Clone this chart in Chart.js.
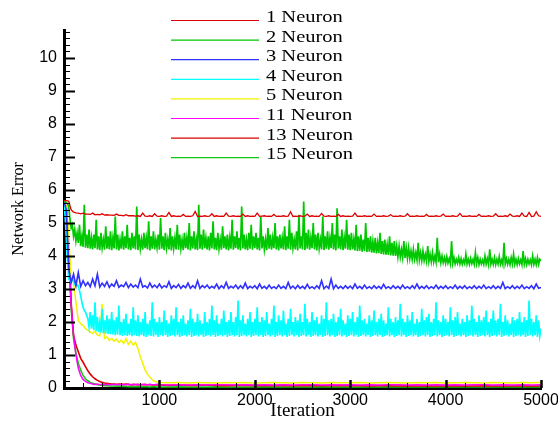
<!DOCTYPE html>
<html>
<head>
<meta charset="utf-8">
<script src="https://cdn.jsdelivr.net/npm/chart.js@4.4.0/dist/chart.umd.min.js"></script>
<style>
  html, body { margin: 0; padding: 0; background: #fff; }
  #wrap { width: 558px; height: 421px; position: relative; }
</style>
</head>
<body>
<div id="wrap"><canvas id="errChart"></canvas></div>
<script>
// iteration grids the curves were read at
function steps(from, to, by) {
  const out = [];
  for (let v = from; v <= to; v += by) out.push(v);
  return out;
}
const iter12 = steps(0, 5000, 12.5);
const iter25 = steps(0, 5000, 25);
const coarseIter = steps(0, 1000, 25).concat(steps(1100, 5000, 100));

const seriesNames = ["1 Neuron", "2 Neuron", "3 Neuron", "4 Neuron", "5 Neuron", "11 Neuron", "13 Neuron", "15 Neuron"];

// 1 and 3 neurons: one value every 25 iterations
const neuron1 = [
  5.68, 5.68, 5.66, 5.4, 5.33, 5.31, 5.3, 5.28, 5.3, 5.27,
  5.27, 5.26, 5.3, 5.25, 5.26, 5.25, 5.28, 5.24, 5.25, 5.24,
  5.24, 5.23, 5.27, 5.23, 5.23, 5.22, 5.25, 5.22, 5.22, 5.22,
  5.21, 5.22, 5.2, 5.3, 5.21, 5.2, 5.22, 5.2, 5.28, 5.21,
  5.2, 5.22, 5.2, 5.21, 5.32, 5.2, 5.22, 5.2, 5.21, 5.2,
  5.26, 5.2, 5.21, 5.2, 5.22, 5.35, 5.2, 5.21, 5.2, 5.22,
  5.2, 5.21, 5.28, 5.2, 5.22, 5.2, 5.21, 5.2, 5.3, 5.21,
  5.2, 5.22, 5.2, 5.21, 5.2, 5.27, 5.2, 5.22, 5.2, 5.21,
  5.2, 5.3, 5.2, 5.21, 5.22, 5.2, 5.21, 5.2, 5.26, 5.2,
  5.21, 5.2, 5.22, 5.2, 5.21, 5.34, 5.2, 5.21, 5.2, 5.22,
  5.2, 5.21, 5.27, 5.2, 5.22, 5.2, 5.21, 5.2, 5.29, 5.21,
  5.2, 5.22, 5.2, 5.21, 5.2, 5.26, 5.2, 5.22, 5.2, 5.21,
  5.2, 5.21, 5.3, 5.2, 5.21, 5.2, 5.22, 5.2, 5.21, 5.2,
  5.27, 5.2, 5.21, 5.2, 5.22, 5.2, 5.21, 5.25, 5.2, 5.21,
  5.2, 5.22, 5.2, 5.21, 5.28, 5.2, 5.21, 5.2, 5.22, 5.2,
  5.21, 5.2, 5.26, 5.2, 5.21, 5.2, 5.22, 5.2, 5.21, 5.27,
  5.2, 5.21, 5.2, 5.22, 5.2, 5.21, 5.29, 5.2, 5.21, 5.2,
  5.22, 5.2, 5.21, 5.2, 5.26, 5.2, 5.21, 5.2, 5.22, 5.2,
  5.21, 5.28, 5.2, 5.21, 5.2, 5.22, 5.2, 5.27, 5.21, 5.2,
  5.22, 5.2, 5.3, 5.21, 5.2, 5.32, 5.2, 5.21, 5.34, 5.22,
  5.2
];
const neuron3 = [
  5.65, 5.4, 3.6, 3.2, 3.45, 3.1, 3.5, 3.08, 3.25, 3.1,
  3.2, 3.07, 3.3, 3.1, 3.45, 3.06, 3.18, 3.08, 3.22, 3.05,
  3.15, 3.08, 3.25, 3.05, 3.12, 3.07, 3.2, 3.04, 3.15, 3.06,
  3.12, 3.04, 3.3, 3.06, 3.1, 3.03, 3.18, 3.05, 3.12, 3.04,
  3.15, 3.03, 3.1, 3.05, 3.22, 3.02, 3.1, 3.04, 3.14, 3.02,
  3.1, 3.04, 3.18, 3.02, 3.1, 3.03, 3.25, 3.02, 3.1, 3.04,
  3.12, 3.02, 3.08, 3.03, 3.15, 3.01, 3.1, 3.03, 3.2, 3.02,
  3.08, 3.03, 3.12, 3.01, 3.1, 3.02, 3.18, 3.01, 3.08, 3.03,
  3.1, 3.01, 3.15, 3.02, 3.08, 3.01, 3.12, 3.02, 3.07, 3.01,
  3.12, 3.02, 3.08, 3.01, 3.2, 3.02, 3.09, 3.01, 3.11, 3.02,
  3.08, 3.01, 3.14, 3.02, 3.07, 3.01, 3.1, 3.02, 3.25, 3.01,
  3.09, 3.02, 3.3, 3.01, 3.12, 3.02, 3.08, 3.01, 3.1, 3.02,
  3.09, 3.01, 3.15, 3.02, 3.08, 3.01, 3.12, 3.02, 3.07, 3.01,
  3.1, 3.02, 3.08, 3.01, 3.14, 3.02, 3.07, 3.01, 3.1, 3.02,
  3.08, 3.01, 3.12, 3.02, 3.07, 3.01, 3.1, 3.02, 3.15, 3.01,
  3.08, 3.02, 3.1, 3.01, 3.07, 3.02, 3.12, 3.01, 3.08, 3.02,
  3.1, 3.01, 3.07, 3.02, 3.12, 3.01, 3.08, 3.02, 3.1, 3.01,
  3.07, 3.02, 3.1, 3.01, 3.08, 3.02, 3.12, 3.01, 3.07, 3.02,
  3.1, 3.01, 3.08, 3.02, 3.2, 3.01, 3.07, 3.02, 3.1, 3.01,
  3.08, 3.02, 3.12, 3.01, 3.07, 3.02, 3.1, 3.01, 3.15, 3.02,
  3.05
];

// 2 and 4 neurons: wide noisy bands, one value every 12.5 iterations
const neuron2 = [
  5.65, 5.65, 5.62, 5.58, 5.5, 5.1, 4.85, 4.95, 4.6, 4.8, 4.45, 4.7, 4.4, 4.95, 4.3, 4.6, 4.28, 5.55, 4.25, 4.65,
  4.24, 4.8, 4.22, 4.55, 4.2, 4.65, 4.24, 5.1, 4.2, 4.6, 4.18, 4.7, 4.25, 4.5, 4.19, 4.9, 4.22, 4.6, 4.2, 4.75,
  4.18, 4.55, 4.23, 5.2, 4.2, 4.65, 4.17, 4.5, 4.22, 4.75, 4.19, 4.6, 4.24, 4.95, 4.2, 4.55, 4.18, 4.7, 4.23, 4.6,
  4.2, 5.5, 4.18, 4.65, 4.22, 4.5, 4.19, 4.7, 4.24, 4.55, 4.2, 5.05, 4.17, 4.6, 4.22, 4.75, 4.2, 4.5, 4.25, 4.65,
  4.19, 5.15, 4.22, 4.6, 4.18, 4.7, 4.24, 4.5, 4.2, 4.85, 4.17, 4.6, 4.23, 4.55, 4.2, 4.95, 4.19, 4.65, 4.22, 4.5,
  4.18, 4.7, 4.24, 4.55, 4.2, 5.0, 4.17, 4.6, 4.23, 4.75, 4.2, 4.5, 4.18, 5.55, 4.22, 4.65, 4.19, 4.8, 4.24, 4.55,
  4.2, 4.6, 4.17, 4.7, 4.23, 5.05, 4.2, 4.55, 4.18, 4.7, 4.22, 4.5, 4.19, 4.9, 4.24, 4.6, 4.2, 4.65, 4.17, 4.55,
  4.22, 5.1, 4.19, 4.6, 4.24, 4.75, 4.2, 4.55, 4.17, 5.5, 4.23, 4.65, 4.2, 4.5, 4.18, 4.7, 4.22, 4.95, 4.19, 4.6,
  4.24, 4.7, 4.2, 4.55, 4.17, 5.2, 4.23, 4.6, 4.2, 4.5, 4.18, 4.85, 4.22, 4.65, 4.19, 4.55, 4.24, 5.0, 4.2, 4.6,
  4.17, 4.65, 4.23, 4.55, 4.2, 4.9, 4.18, 4.6, 4.22, 5.1, 4.19, 4.7, 4.24, 4.5, 4.2, 4.75, 4.17, 5.25, 4.23, 4.6,
  4.2, 5.65, 4.18, 4.7, 4.22, 4.8, 4.19, 4.55, 4.24, 5.0, 4.2, 4.65, 4.17, 4.7, 4.23, 4.5, 4.2, 5.2, 4.18, 4.6,
  4.22, 4.75, 4.19, 4.55, 4.24, 5.0, 4.2, 4.65, 4.17, 5.45, 4.23, 4.6, 4.2, 4.8, 4.18, 4.55, 4.22, 5.1, 4.19, 4.65,
  4.18, 4.7, 4.2, 4.5, 4.17, 4.95, 4.15, 4.6, 4.16, 4.65, 4.13, 4.5, 4.15, 5.0, 4.12, 4.55, 4.13, 4.6, 4.1, 4.45,
  4.1, 4.55, 4.08, 4.4, 4.09, 4.7, 4.06, 4.45, 4.05, 4.5, 4.04, 4.35, 4.03, 4.6, 4.02, 4.4, 4.01, 4.45, 4.0, 4.3,
  3.98, 4.3, 3.97, 4.2, 3.95, 4.45, 3.94, 4.25, 3.93, 4.25, 3.92, 4.15, 3.9, 4.2, 3.9, 4.1, 3.88, 4.4, 3.88, 4.1,
  3.86, 4.15, 3.86, 4.05, 3.85, 4.3, 3.84, 4.05, 3.83, 4.1, 3.82, 4.0, 3.82, 4.55, 3.81, 4.05, 3.8, 4.0, 3.8, 3.95,
  3.78, 3.98, 3.79, 3.92, 3.77, 4.45, 3.78, 3.95, 3.76, 3.9, 3.78, 3.95, 3.76, 3.92, 3.75, 3.88, 3.77, 4.05, 3.76, 3.9,
  3.75, 3.93, 3.77, 3.9, 3.75, 4.1, 3.77, 3.95, 3.74, 3.9, 3.76, 3.88, 3.75, 4.0, 3.76, 3.92, 3.74, 4.2, 3.76, 3.9,
  3.75, 3.95, 3.74, 3.9, 3.76, 3.98, 3.75, 3.88, 3.74, 4.4, 3.76, 3.92, 3.75, 3.9, 3.74, 3.95, 3.76, 4.05, 3.75, 3.9,
  3.74, 3.92, 3.76, 3.88, 3.74, 4.15, 3.75, 3.92, 3.74, 3.9, 3.76, 3.88, 3.74, 4.0, 3.75, 3.9, 3.74, 3.95, 3.75, 3.9,
  3.85
];
const neuron4 = [
  5.6, 5.2, 4.5, 3.8, 3.3, 3.25, 3.2, 3.3, 3.25, 3.15, 3.2, 3.1, 3.1, 2.95, 2.8, 2.6, 2.45, 2.35, 2.3, 2.2,
  2.1, 1.85, 2.3, 1.8, 2.2, 1.75, 2.6, 1.72, 2.15, 1.7, 2.0, 1.68, 2.4, 1.66, 2.05, 1.65, 2.2, 1.64, 2.1, 1.63,
  2.3, 1.62, 2.05, 1.6, 2.15, 1.62, 2.5, 1.6, 2.0, 1.58, 2.1, 1.6, 2.25, 1.58, 1.95, 1.6, 2.1, 1.57, 2.45, 1.6,
  2.05, 1.58, 2.2, 1.56, 2.0, 1.6, 2.1, 1.57, 2.3, 1.55, 1.95, 1.6, 2.05, 1.58, 2.6, 1.56, 2.1, 1.6, 2.0, 1.55,
  2.15, 1.6, 2.0, 1.57, 2.35, 1.6, 2.05, 1.55, 1.95, 1.58, 2.2, 1.6, 2.1, 1.56, 2.45, 1.6, 2.0, 1.55, 2.1, 1.58,
  2.2, 1.6, 1.95, 1.56, 2.05, 1.6, 2.4, 1.55, 2.1, 1.58, 2.0, 1.6, 2.25, 1.56, 2.05, 1.6, 1.95, 1.55, 2.3, 1.58,
  2.0, 1.6, 2.1, 1.56, 2.5, 1.6, 2.05, 1.55, 2.2, 1.58, 1.95, 1.6, 2.1, 1.56, 2.35, 1.6, 2.0, 1.55, 2.05, 1.58,
  2.3, 1.6, 2.0, 1.56, 2.15, 1.6, 2.65, 1.55, 2.05, 1.58, 2.2, 1.6, 1.95, 1.56, 2.1, 1.6, 2.3, 1.55, 2.0, 1.58,
  2.1, 1.6, 2.45, 1.56, 2.0, 1.6, 2.15, 1.55, 2.05, 1.58, 2.3, 1.6, 1.95, 1.56, 2.1, 1.6, 2.5, 1.55, 2.0, 1.58,
  2.2, 1.6, 2.05, 1.56, 2.35, 1.6, 1.95, 1.55, 2.1, 1.58, 2.4, 1.6, 2.0, 1.56, 2.15, 1.6, 2.05, 1.55, 2.25, 1.58,
  2.0, 1.6, 2.55, 1.56, 2.1, 1.6, 2.0, 1.55, 2.3, 1.58, 2.05, 1.6, 2.15, 1.56, 1.95, 1.6, 2.2, 1.55, 2.1, 1.58,
  2.6, 1.6, 2.05, 1.56, 2.1, 1.6, 2.25, 1.55, 2.0, 1.58, 2.15, 1.6, 2.4, 1.56, 2.05, 1.6, 1.95, 1.55, 2.2, 1.58,
  2.1, 1.6, 2.3, 1.56, 2.0, 1.6, 2.15, 1.55, 2.5, 1.58, 2.05, 1.6, 2.1, 1.56, 1.95, 1.6, 2.2, 1.55, 2.05, 1.58,
  2.35, 1.6, 2.0, 1.56, 2.1, 1.6, 2.25, 1.55, 2.05, 1.58, 1.95, 1.6, 2.45, 1.56, 2.1, 1.6, 2.0, 1.55, 2.15, 1.58,
  2.05, 1.6, 2.55, 1.56, 2.1, 1.6, 2.0, 1.55, 2.2, 1.58, 2.05, 1.6, 2.3, 1.56, 1.95, 1.6, 2.1, 1.55, 2.0, 1.58,
  2.4, 1.6, 2.05, 1.56, 2.15, 1.6, 2.25, 1.55, 2.0, 1.58, 2.1, 1.6, 2.6, 1.56, 2.05, 1.6, 2.0, 1.55, 2.2, 1.58,
  2.1, 1.6, 2.0, 1.56, 2.45, 1.6, 2.05, 1.55, 2.15, 1.58, 2.3, 1.6, 1.95, 1.56, 2.1, 1.6, 2.0, 1.55, 2.2, 1.58,
  2.05, 1.6, 2.5, 1.56, 2.1, 1.6, 2.0, 1.55, 2.2, 1.58, 2.05, 1.6, 2.15, 1.56, 2.35, 1.6, 2.0, 1.55, 2.1, 1.58,
  2.35, 1.6, 2.05, 1.56, 2.1, 1.6, 2.55, 1.55, 2.0, 1.58, 2.2, 1.6, 2.05, 1.56, 1.95, 1.6, 2.15, 1.55, 2.05, 1.58,
  2.1, 1.6, 2.3, 1.56, 2.0, 1.6, 2.15, 1.55, 2.05, 1.58, 2.65, 1.6, 2.1, 1.56, 2.0, 1.6, 2.2, 1.55, 2.05, 1.58,
  1.8
];

// fast-converging curves, every 25 iterations to 1000, then every 100
const neuron5 = [
  5.6, 5.5, 4.6, 3.3, 3.2, 2.6, 2.05, 1.95, 1.9, 1.8,
  1.75, 1.7, 1.65, 1.72, 1.6, 1.58, 2.55, 1.5, 1.55, 1.45,
  1.5, 1.42, 1.48, 1.38, 1.45, 1.35, 1.5, 1.32, 1.42, 1.3,
  1.38, 1.2, 0.95, 0.75, 0.55, 0.42, 0.33, 0.25, 0.2, 0.18,
  0.17,
  0.16, 0.17, 0.15, 0.17, 0.16, 0.15, 0.17, 0.16, 0.17, 0.15,
  0.16, 0.17, 0.16, 0.15, 0.17, 0.16, 0.15, 0.17, 0.16, 0.16,
  0.17, 0.15, 0.16, 0.17, 0.16, 0.15, 0.17, 0.16, 0.17, 0.15,
  0.16, 0.17, 0.16, 0.15, 0.17, 0.16, 0.15, 0.17, 0.16, 0.17
];
const neuron11 = [
  5.55, 5.3, 4.0, 2.5, 1.6, 1.0, 0.6, 0.38, 0.26, 0.2,
  0.16, 0.14, 0.12, 0.11, 0.12, 0.1, 0.11, 0.1, 0.11, 0.1,
  0.1, 0.11, 0.1, 0.1, 0.11, 0.1, 0.1, 0.11, 0.1, 0.1,
  0.11, 0.1, 0.1, 0.11, 0.1, 0.1, 0.11, 0.1, 0.1, 0.11,
  0.1,
  0.09, 0.1, 0.09, 0.1, 0.09, 0.1, 0.1, 0.09, 0.1, 0.09,
  0.1, 0.09, 0.1, 0.09, 0.1, 0.1, 0.09, 0.1, 0.09, 0.1,
  0.09, 0.1, 0.09, 0.1, 0.1, 0.09, 0.1, 0.09, 0.1, 0.09,
  0.1, 0.09, 0.1, 0.1, 0.09, 0.1, 0.09, 0.1, 0.09, 0.1
];
const neuron13 = [
  5.6, 5.5, 4.3, 2.6, 1.6, 1.3, 1.1, 0.9, 0.78, 0.65,
  0.52, 0.42, 0.34, 0.28, 0.23, 0.2, 0.17, 0.15, 0.14, 0.13,
  0.12, 0.12, 0.11, 0.12, 0.11, 0.11, 0.12, 0.11, 0.1, 0.11,
  0.1, 0.11, 0.1, 0.1, 0.11, 0.1, 0.1, 0.09, 0.1, 0.09,
  0.09,
  0.08, 0.09, 0.08, 0.08, 0.09, 0.08, 0.07, 0.08, 0.08, 0.07,
  0.08, 0.07, 0.08, 0.07, 0.07, 0.08, 0.07, 0.07, 0.08, 0.07,
  0.07, 0.06, 0.07, 0.07, 0.06, 0.07, 0.06, 0.07, 0.06, 0.06,
  0.07, 0.06, 0.06, 0.07, 0.06, 0.06, 0.06, 0.07, 0.06, 0.06
];
const neuron15 = [
  5.6, 5.45, 4.1, 2.4, 1.5, 1.05, 0.75, 0.54, 0.38, 0.28,
  0.22, 0.17, 0.14, 0.12, 0.1, 0.09, 0.08, 0.07, 0.07, 0.06,
  0.06, 0.06, 0.05, 0.06, 0.05, 0.05, 0.05, 0.04, 0.05, 0.04,
  0.04, 0.05, 0.04, 0.04, 0.04, 0.04, 0.03, 0.04, 0.04, 0.03,
  0.03,
  0.03, 0.04, 0.03, 0.03, 0.03, 0.04, 0.03, 0.03, 0.03, 0.03,
  0.04, 0.03, 0.03, 0.03, 0.03, 0.03, 0.04, 0.03, 0.03, 0.03,
  0.03, 0.03, 0.03, 0.04, 0.03, 0.03, 0.03, 0.03, 0.03, 0.03,
  0.03, 0.04, 0.03, 0.03, 0.03, 0.03, 0.03, 0.03, 0.04, 0.03
];

const seriesColors = ["#dd0000", "#00c800", "#3030ff", "#00ffff", "#f2f200", "#ff00ff", "#dd0000", "#10c810"];
const seriesWidths = [1.3, 1.7, 1.6, 1.7, 1.5, 1.5, 1.6, 1.6];

const pts = (xs, ys) => ys.map((y, i) => ({ x: xs[i], y: y }));
const seriesData = [
  pts(iter25, neuron1),
  pts(iter12, neuron2),
  pts(iter25, neuron3),
  pts(iter12, neuron4),
  pts(coarseIter, neuron5),
  pts(coarseIter, neuron11),
  pts(coarseIter, neuron13),
  pts(coarseIter, neuron15)
];

// inward tick marks like the original plot
const innerTicks = {
  id: "innerTicks",
  afterDraw(chart) {
    const { ctx, chartArea: a, scales: { x, y } } = chart;
    ctx.save();
    ctx.strokeStyle = "#000";
    for (let k = 0; k <= 54; k++) {
      const v = k / 5;
      const major = k % 5 === 0;
      const py = Math.round(y.getPixelForValue(v)) + 0.5;
      ctx.lineWidth = major ? 2 : 1;
      ctx.beginPath();
      ctx.moveTo(a.left, py);
      ctx.lineTo(a.left + (major ? 11 : 6), py);
      ctx.stroke();
    }
    for (let v = 200; v <= 5000; v += 200) {
      const major = v % 1000 === 0;
      const px = Math.round(x.getPixelForValue(v)) + 0.5;
      ctx.lineWidth = major ? 2.5 : 1;
      ctx.beginPath();
      ctx.moveTo(px, a.bottom);
      ctx.lineTo(px, a.bottom - (major ? 8 : 5));
      ctx.stroke();
    }
    ctx.restore();
  }
};

// legend block sitting inside the plot
const lineLegend = {
  id: "lineLegend",
  afterDraw(chart) {
    const ctx = chart.ctx;
    ctx.save();
    chart.data.datasets.forEach((ds, i) => {
      const ly = 20.5 + i * 19.6;
      ctx.strokeStyle = ds.borderColor;
      ctx.lineWidth = 1.2;
      ctx.beginPath();
      ctx.moveTo(171, ly);
      ctx.lineTo(259, ly);
      ctx.stroke();
      ctx.save();
      ctx.translate(266, ly + 1.5);
      ctx.scale(1.28, 1);
      ctx.fillStyle = "#000";
      ctx.font = "16px 'Liberation Serif'";
      ctx.textBaseline = "alphabetic";
      ctx.fillText(ds.label, 0, 0);
      ctx.restore();
    });
    ctx.restore();
  }
};

const config = {
  type: "line",
  data: {
    datasets: seriesNames.map((name, i) => ({
      label: name,
      data: seriesData[i],
      borderColor: seriesColors[i],
      borderWidth: seriesWidths[i],
      pointRadius: 0,
      tension: 0,
      fill: false
    }))
  },
  options: {
    responsive: true,
    maintainAspectRatio: false,
    animation: false,
    layout: { padding: { top: 30, right: 17, left: 0, bottom: 0 } },
    plugins: {
      legend: { display: false },
      tooltip: { enabled: false }
    },
    scales: {
      x: {
        type: "linear",
        min: 0,
        max: 5000,
        grid: { display: false, drawTicks: false },
        border: { display: true, color: "#000", width: 3 },
        ticks: {
          stepSize: 1000,
          padding: 3,
          color: "#000",
          maxRotation: 0,
          autoSkip: false,
          font: { family: "Liberation Sans", size: 16 },
          callback: (v) => (v === 0 ? "" : v)
        },
        title: {
          display: true,
          text: "Iteration",
          color: "#000",
          font: { family: "Liberation Serif", size: 19, lineHeight: 1 },
          padding: { top: 0, bottom: 0 }
        },
        afterFit: (s) => {
          s.height = 33;
          s.paddingLeft = 0;
          s.paddingRight = 0;
        }
      },
      y: {
        type: "linear",
        min: 0,
        max: 10.85,
        grid: { display: false, drawTicks: false },
        border: { display: true, color: "#000", width: 3 },
        ticks: {
          stepSize: 1,
          includeBounds: false,
          padding: 7,
          color: "#000",
          font: { family: "Liberation Sans", size: 16 }
        },
        title: {
          display: true,
          text: "Network Error",
          color: "#000",
          font: { family: "Liberation Serif", size: 16, lineHeight: 1 },
          padding: { top: 11, bottom: 0 }
        },
        afterFit: (s) => { s.width = 64; }
      }
    }
  },
  plugins: [innerTicks, lineLegend]
};

const errChart = new Chart(document.getElementById("errChart"), config);
</script>
</body>
</html>
